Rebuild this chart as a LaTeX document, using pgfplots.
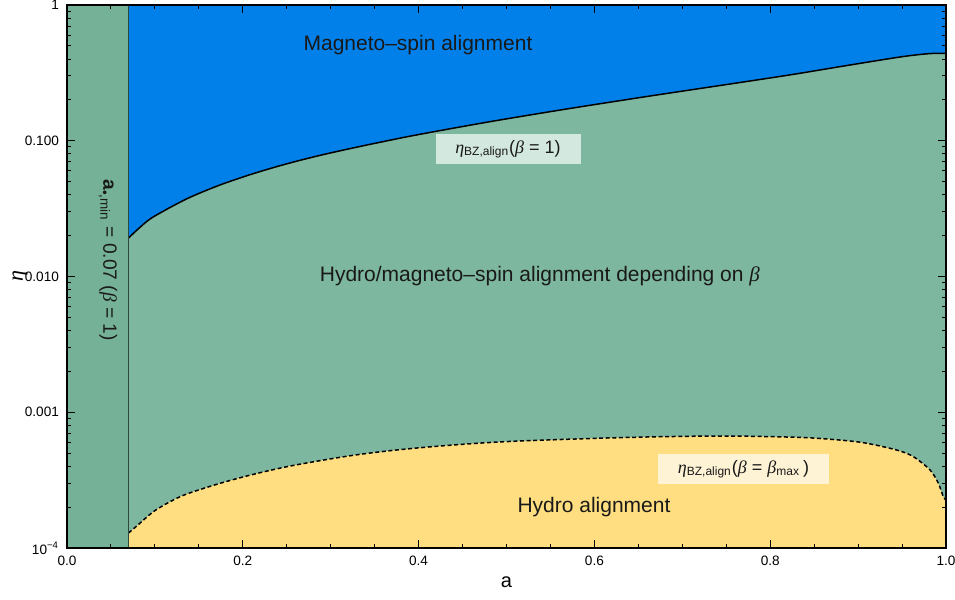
\documentclass[border=0pt]{standalone}
\usepackage{fontspec}
\setmainfont{Liberation Sans}
\newfontfamily\grk{Liberation Serif}
\usepackage{pgfplots}
\usepackage{pgfplotstable}
\pgfplotsset{compat=1.18}

\definecolor{zonegreen}{RGB}{125,183,159}
\definecolor{stripgreen}{RGB}{117,177,150}
\definecolor{zoneblue}{RGB}{2,128,233}
\definecolor{zoneyellow}{RGB}{254,222,128}
\definecolor{boxgreen}{RGB}{211,232,223}
\definecolor{boxyellow}{RGB}{255,243,214}
\definecolor{limitline}{RGB}{45,72,62}

\newcommand{\gk}[1]{{\grk\itshape #1}}

% eta_BZ,align for beta = 1 (boundary of the magneto-spin region)
\pgfplotstableread{
a       eta
0.0700  0.01923
0.0840  0.02333
0.0982  0.02748
0.1362  0.03733
0.1741  0.04724
0.2120  0.05726
0.2499  0.06759
0.2878  0.07804
0.3257  0.08857
0.3637  0.09977
0.4016  0.1116
0.4812  0.1382
0.5685  0.1714
0.6633  0.2136
0.7580  0.2640
0.8253  0.3076
0.8908  0.3614
0.9477  0.4140
0.9761  0.4356
0.9900  0.4406
1.0000  0.4391
}\etaone

% eta_BZ,align for beta = beta_max (boundary of the hydro region)
\pgfplotstableread{
a       eta
0.0700  1.29e-4
0.0793  1.452e-4
0.0982  1.851e-4
0.1172  2.193e-4
0.1362  2.500e-4
0.1741  2.996e-4
0.2120  3.490e-4
0.2499  3.970e-4
0.2878  4.400e-4
0.3257  4.820e-4
0.3637  5.180e-4
0.4016  5.480e-4
0.4395  5.740e-4
0.4775  5.970e-4
0.5154  6.140e-4
0.6026  6.430e-4
0.6784  6.610e-4
0.7543  6.680e-4
0.8301  6.540e-4
0.8692  6.320e-4
0.9059  5.970e-4
0.9439  5.270e-4
0.9628  4.710e-4
0.9818  3.760e-4
0.9913  3.000e-4
0.9969  2.390e-4
1.0000  2.260e-4
}\etamax

\begin{document}
\begin{tikzpicture}
\begin{axis}[
  scale only axis,
  width=439.5pt, height=271.5pt,
  xmin=0, xmax=1,
  ymode=log, ymin=1e-4, ymax=1,
  axis background/.style={fill=zonegreen},
  axis on top,
  axis line style={black, line width=0.6pt},
  every tick/.style={black, line width=0.5pt},
  tick align=inside,
  major tick length=4.2pt, minor tick length=2.2pt,
  xtick={0,0.2,0.4,0.6,0.8,1},
  xticklabels={0.0,0.2,0.4,0.6,0.8,1.0},
  minor x tick num=3,
  ytick={1e-4,1e-3,1e-2,1e-1,1},
  yticklabels={10\textsuperscript{−4},0.001,0.010,0.100,1},
  minor ytick={2e-4,3e-4,4e-4,5e-4,6e-4,7e-4,8e-4,9e-4,
               2e-3,3e-3,4e-3,5e-3,6e-3,7e-3,8e-3,9e-3,
               2e-2,3e-2,4e-2,5e-2,6e-2,7e-2,8e-2,9e-2,
               0.2,0.3,0.4,0.5,0.6,0.7,0.8,0.9},
  tick label style={font=\fontsize{6.8}{7}\selectfont, text=black},
  xticklabel style={yshift=-0.5pt},
  yticklabel style={xshift=-0.5pt},
  xlabel={a},
  ylabel={\gk{η}},
  xlabel style={font=\fontsize{10}{12}\selectfont, at={(axis description cs:0.5,-0.063)}, anchor=center},
  ylabel style={font=\fontsize{11}{12}\selectfont, at={(axis description cs:-0.0535,0.5)}, anchor=center},
]
% region left of the minimal spin
\addplot[fill=stripgreen, draw=none] coordinates {(0,1e-4) (0.07,1e-4) (0.07,1) (0,1)} -- cycle;
% magneto-spin alignment region
\addplot[fill=zoneblue, draw=none, smooth, tension=0.5] table[x=a, y=eta] {\etaone} |- (axis cs:0.07,1) -- cycle;
% hydro alignment region
\addplot[fill=zoneyellow, draw=none, smooth, tension=0.5] table[x=a, y=eta] {\etamax} |- (axis cs:0.07,1e-4) -- cycle;
% boundaries
\addplot[black, line width=0.75pt, smooth, tension=0.5] table[x=a, y=eta] {\etaone};
\addplot[black, line width=0.75pt, smooth, tension=0.5, dash pattern=on 2pt off 1.3pt] table[x=a, y=eta] {\etamax};
\addplot[limitline, line width=0.6pt] coordinates {(0.07,1e-4) (0.07,1)};

\node[font=\fontsize{10.5}{12}\selectfont, text=black!90] at (axis cs:0.3993,0.5074) {Magneto–spin alignment};
\node[font=\fontsize{10.5}{12}\selectfont, text=black!90] at (axis cs:0.538,0.0101) {Hydro/magneto–spin alignment depending on \gk{β}};
\node[font=\fontsize{10.5}{12}\selectfont, text=black!90] at (axis cs:0.5995,2.0e-4) {Hydro alignment};
\node[fill=boxgreen, minimum width=72.5pt, minimum height=15pt, inner sep=0pt,
      font=\fontsize{9}{10}\selectfont, text=black!90] at (axis cs:0.5017,0.0869)
      {\gk{η}\textsubscript{BZ,align}(\gk{β} = 1)};
\node[fill=boxyellow, minimum width=85.5pt, minimum height=15pt, inner sep=0pt,
      font=\fontsize{9}{10}\selectfont, text=black!90] at (axis cs:0.7696,3.82e-4)
      {\gk{η}\textsubscript{BZ,align}(\gk{β} = \gk{β}\textsubscript{max}\,)};
\node[rotate=-90, font=\fontsize{9.6}{10}\selectfont, text=black!90] at (axis cs:0.0466,0.0132)
      {\textbf{a}\textsubscript{•,min}\ =\ 0.07 (\gk{β}\ =\ 1)};

\coordinate (ll) at (rel axis cs:0,0);
\coordinate (ur) at (rel axis cs:1,1);
\end{axis}
\pgfresetboundingbox
\useasboundingbox ([xshift=-33.5pt,yshift=-25.5pt]ll) rectangle ([xshift=4.5pt,yshift=2.5pt]ur);
\end{tikzpicture}
\end{document}
